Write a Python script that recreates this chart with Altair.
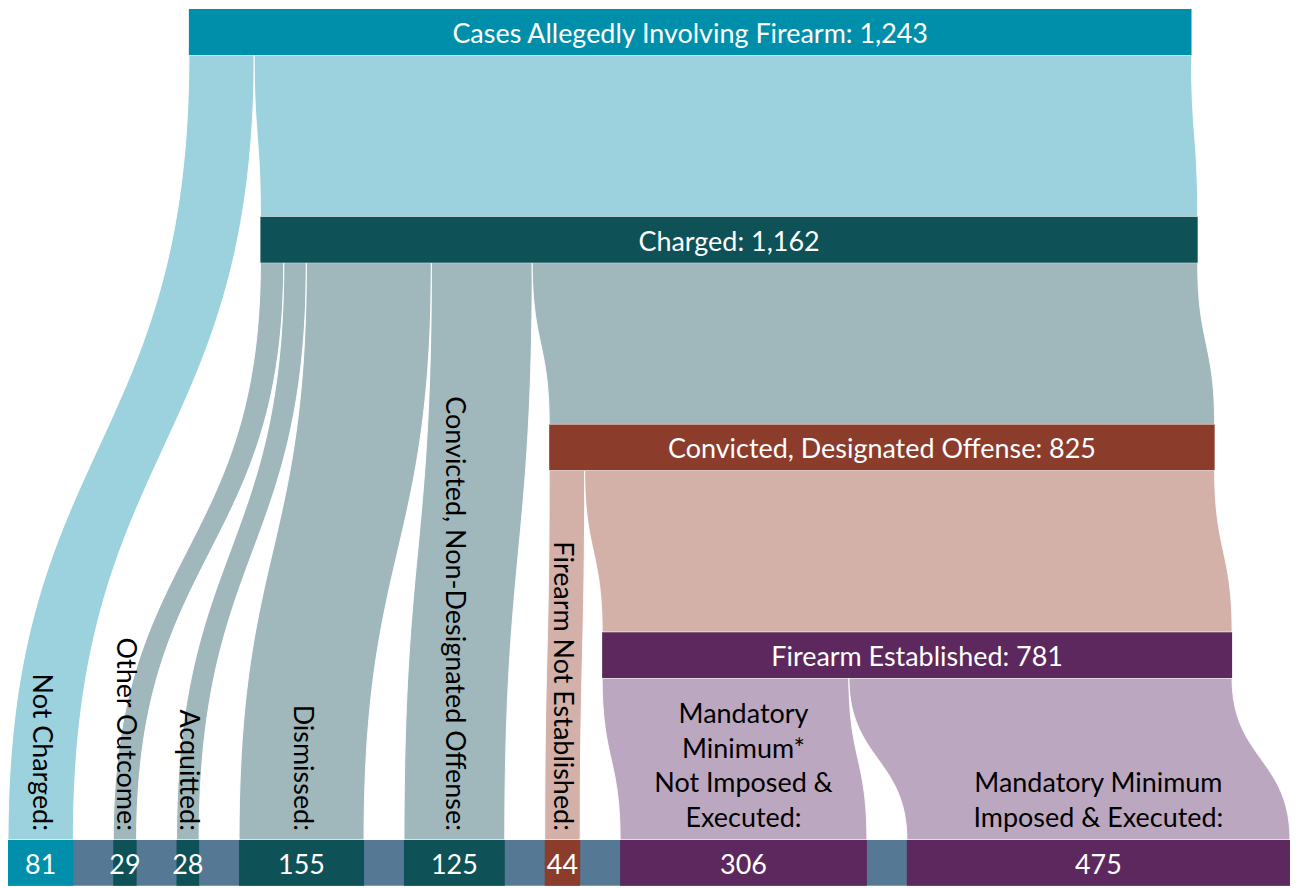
import altair as alt
import numpy as np
import pandas as pd

# ---------------- data ----------------
stage_names = ["Cases Allegedly Involving Firearm", "Charged",
               "Convicted, Designated Offense", "Firearm Established"]
stage_values = [1243, 1162, 825, 781]

outcome_names = ["Not Charged:", "Other Outcome:", "Acquitted:", "Dismissed:",
                 "Convicted, Non-Designated Offense:", "Firearm Not Established:",
                 "Mandatory\nMinimum*\nNot Imposed &\nExecuted:",
                 "Mandatory Minimum\nImposed & Executed:"]
outcome_values = [81, 29, 28, 155, 125, 44, 306, 475]
outcome_source = [0, 1, 1, 1, 1, 2, 3, 3]   # stage each outcome flows out of

# ---------------- style ----------------
stage_colors = ["#008FAA", "#0E5157", "#8B3C2B", "#5D285D"]
ribbon_colors = ["#9BD2DE", "#A0B8BB", "#D3B0A8", "#BBA7C0"]
base_color = "#557894"
rotated = [True, True, True, True, True, True, False, False]

# ---------------- layout ----------------
K = 0.8085                      # px per case
GAP = 40 / K                    # gap between outcome boxes (in cases)
TOP_LEFT = 181.3 / K            # left edge of first stage bar (in cases)
STAGE_SHIFT = [0, 6.2 / K, 17.0 / K, 17.5 / K]
STEP = 208.2
BAR_H = 46.0
W, H = 1286, 879
FONT = "Lato"
FS = 27
LINE_H = 35

n_out = len(outcome_values)
out_left = []
acc = 0.0
for v in outcome_values:
    out_left.append(acc)
    acc += v + GAP
total_units = out_left[-1] + outcome_values[-1]
BOTTOM = (len(stage_values)) * STEP

stage_left = [TOP_LEFT]
flows = []
for s in range(len(stage_values)):
    cursor = stage_left[s]
    ysrc = s * STEP + BAR_H
    for i in range(n_out):
        if outcome_source[i] == s:
            v = outcome_values[i]
            flows.append((s, cursor, cursor + v, ysrc, out_left[i], out_left[i] + v, BOTTOM))
            cursor += v
    if s + 1 < len(stage_values):
        nl = cursor + STAGE_SHIFT[s + 1]
        stage_left.append(nl)
        v = stage_values[s + 1]
        flows.append((s, cursor, cursor + v, ysrc, nl, nl + v, (s + 1) * STEP))

t = np.linspace(0, 1, 90)
rows = []
for fid, (s, a0, a1, ys, b0, b1, yt) in enumerate(flows):
    yy = ys + (yt - ys) * (1.5 * t * (1 - t) + t ** 3)
    f = 3 * t ** 2 - 2 * t ** 3
    for k in range(len(t)):
        rows.append({"fid": fid, "y": yy[k], "xl": a0 + (b0 - a0) * f[k],
                     "xr": a1 + (b1 - a1) * f[k], "fill": ribbon_colors[s]})
ribbon_df = pd.DataFrame(rows)

bars = []
for s, (nm, v) in enumerate(zip(stage_names, stage_values)):
    bars.append({"x0": stage_left[s], "x1": stage_left[s] + v, "y0": s * STEP,
                 "y1": s * STEP + BAR_H, "fill": stage_colors[s],
                 "xc": stage_left[s] + v / 2, "yc": s * STEP + BAR_H / 2,
                 "label": f"{nm}: {v:,}"})
bars_df = pd.DataFrame(bars)

base_df = pd.DataFrame([{"x0": 0, "x1": total_units, "y0": BOTTOM, "y1": BOTTOM + BAR_H,
                         "fill": base_color}])

boxes = []
for i, (nm, v) in enumerate(zip(outcome_names, outcome_values)):
    boxes.append({"x0": out_left[i], "x1": out_left[i] + v, "y0": BOTTOM,
                  "y1": BOTTOM + BAR_H, "fill": stage_colors[outcome_source[i]],
                  "xc": out_left[i] + v / 2, "yc": BOTTOM + BAR_H / 2,
                  "num": f"{v:,}", "name": nm, "rot": rotated[i]})
boxes_df = pd.DataFrame(boxes)

# flat multi-line labels, one row per line (last line sits just above the bottom row)
flat_rows = []
for i in range(n_out):
    if not rotated[i]:
        lines = outcome_names[i].split("\n")
        for j, ln in enumerate(lines):
            flat_rows.append({"xc": out_left[i] + outcome_values[i] / 2,
                              "ty": BOTTOM - 12.5 - (len(lines) - 1 - j) * LINE_H,
                              "line": ln})
flat_df = pd.DataFrame(flat_rows)

xs = alt.Scale(domain=[0, W / K], nice=False, zero=False)
ysc = alt.Scale(domain=[0, H], reverse=True, nice=False, zero=False)

ribbons = alt.Chart(ribbon_df).mark_area(orient="horizontal", stroke="white",
                                         strokeWidth=1).encode(
    y=alt.Y("y:Q", scale=ysc, axis=None),
    x=alt.X("xl:Q", scale=xs, axis=None, stack=None),
    x2="xr:Q",
    detail="fid:N",
    color=alt.Color("fill:N", scale=None),
)

def rects(df):
    return alt.Chart(df).mark_rect().encode(
        x=alt.X("x0:Q", scale=xs, axis=None), x2="x1:Q",
        y=alt.Y("y0:Q", scale=ysc, axis=None), y2="y1:Q",
        color=alt.Color("fill:N", scale=None),
    )

stage_rects = rects(bars_df)
base_rect = rects(base_df)
box_rects = rects(boxes_df)

stage_text = alt.Chart(bars_df).mark_text(
    font=FONT, fontSize=FS, color="white", align="center", baseline="middle", dy=3
).encode(x=alt.X("xc:Q", scale=xs, axis=None), y=alt.Y("yc:Q", scale=ysc, axis=None),
         text="label:N")

num_text = alt.Chart(boxes_df).mark_text(
    font=FONT, fontSize=FS, color="white", align="center", baseline="middle", dy=3
).encode(x=alt.X("xc:Q", scale=xs, axis=None), y=alt.Y("yc:Q", scale=ysc, axis=None),
         text="num:N")

rot_df = boxes_df[boxes_df["rot"]].copy()
rot_df["ty"] = BOTTOM - 9
rot_text = alt.Chart(rot_df).mark_text(
    font=FONT, fontSize=FS, color="black", align="right", baseline="middle", angle=90
).encode(x=alt.X("xc:Q", scale=xs, axis=None), y=alt.Y("ty:Q", scale=ysc, axis=None),
         text="name:N")

flat_text = alt.Chart(flat_df).mark_text(
    font=FONT, fontSize=FS, color="black", align="center", baseline="alphabetic"
).encode(x=alt.X("xc:Q", scale=xs, axis=None), y=alt.Y("ty:Q", scale=ysc, axis=None),
         text="line:N")

chart = alt.layer(
    ribbons, base_rect, stage_rects, box_rects, stage_text, num_text, rot_text, flat_text
).properties(width=W, height=H, padding=0, autosize="none").configure_view(stroke=None)

chart.save("out.html", embed_options={"renderer": "svg", "actions": False})
